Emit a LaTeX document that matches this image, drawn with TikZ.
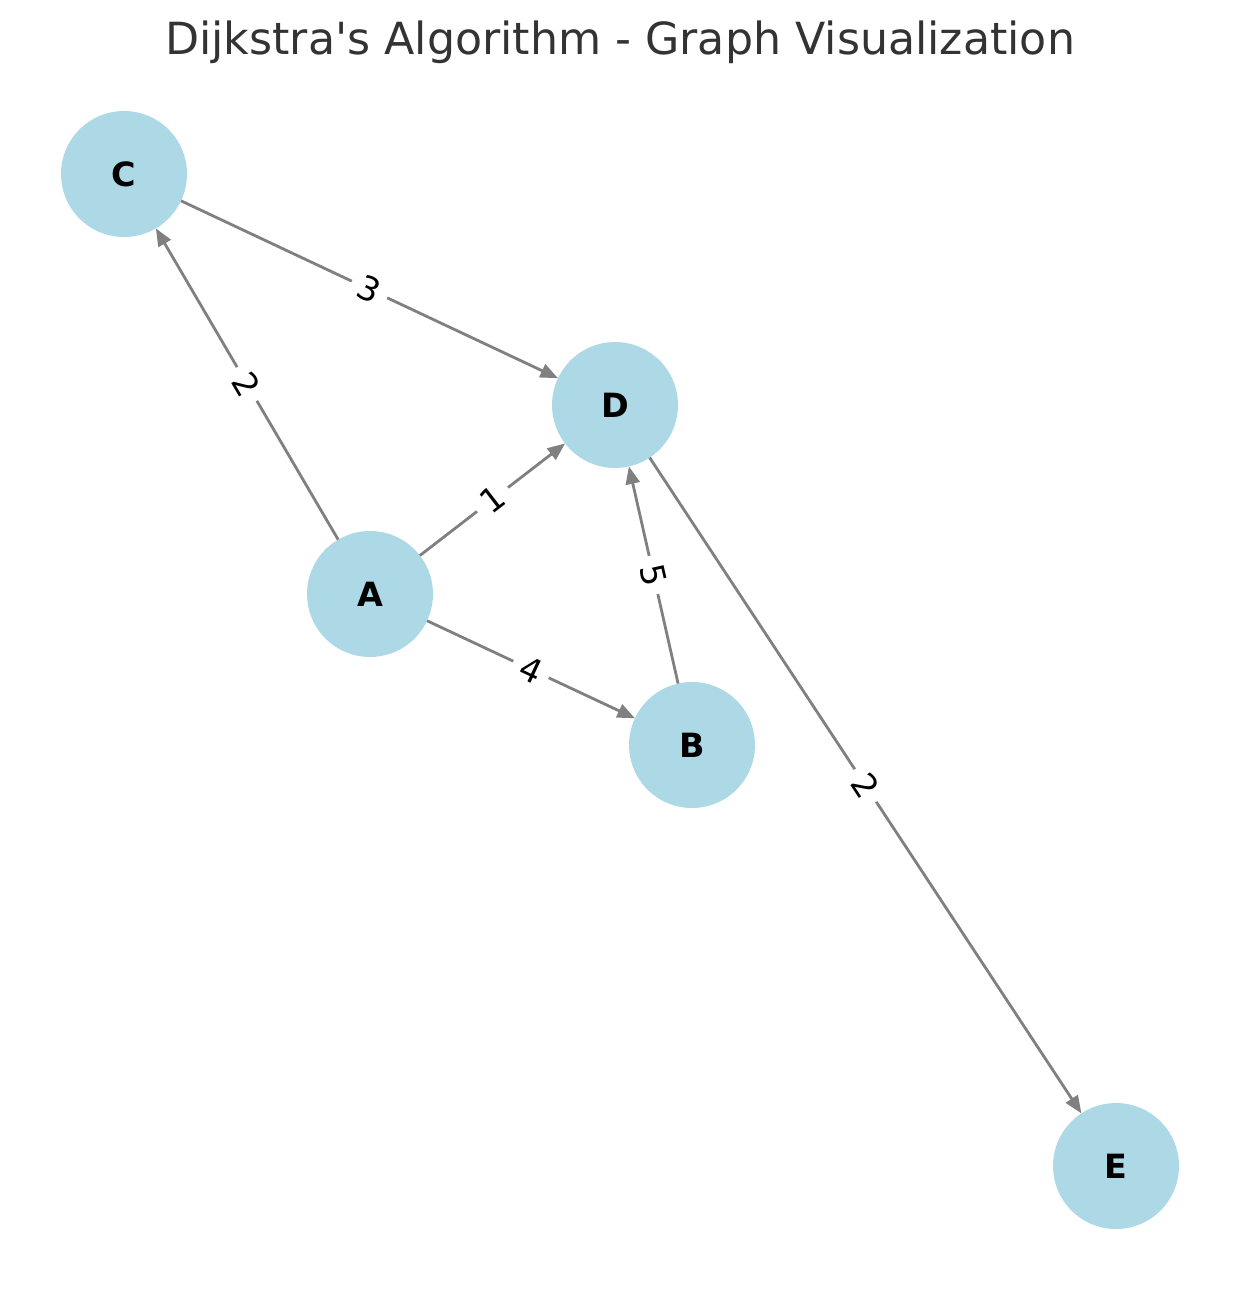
\documentclass[tikz,border=0pt]{standalone}
\usepackage{fontspec}
\setmainfont{DejaVu Sans}[Ligatures=TeXOff]
\usetikzlibrary{arrows.meta}
\definecolor{nodeblue}{HTML}{ADD8E6}
\definecolor{titlegray}{HTML}{333333}

\begin{document}
\begin{tikzpicture}
  [x=0.02cm,y=-0.02cm]
      \tikzstyle{vertex_style} = [circle, fill=nodeblue, minimum size=2.52cm, inner sep=0, outer sep=0, font=\fontsize{19}{22}\selectfont\bfseries]
      \tikzstyle{edge_style} = [draw=gray, line width=1.6pt, -{Triangle[length=10pt,width=8pt]}]
      \tikzstyle{weight_style} = [fill=white, inner sep=5pt, sloped, midway, font=\fontsize{19}{22}\selectfont]
  \useasboundingbox (0,0) rectangle (1239,1290);
  \node[text=titlegray, font=\fontsize{25.2}{30}\selectfont] (title) at (620,42) {Dijkstra's Algorithm - Graph Visualization};
  \node[vertex_style] (nC) at (124,174) {C};
  \node[vertex_style] (nD) at (615,405) {D};
  \node[vertex_style] (nA) at (370,594) {A};
  \node[vertex_style] (nB) at (692,745) {B};
  \node[vertex_style] (nE) at (1116,1166) {E};
  \draw[edge_style] (nA) -- node[weight_style] {2} (nC);
  \draw[edge_style] (nC) -- node[weight_style] {3} (nD);
  \draw[edge_style] (nA) -- node[weight_style] {1} (nD);
  \draw[edge_style] (nA) -- node[weight_style] {4} (nB);
  \draw[edge_style] (nB) -- node[weight_style] {5} (nD);
  \draw[edge_style] (nD) -- node[weight_style] {2} (nE);
\end{tikzpicture}
\end{document}
